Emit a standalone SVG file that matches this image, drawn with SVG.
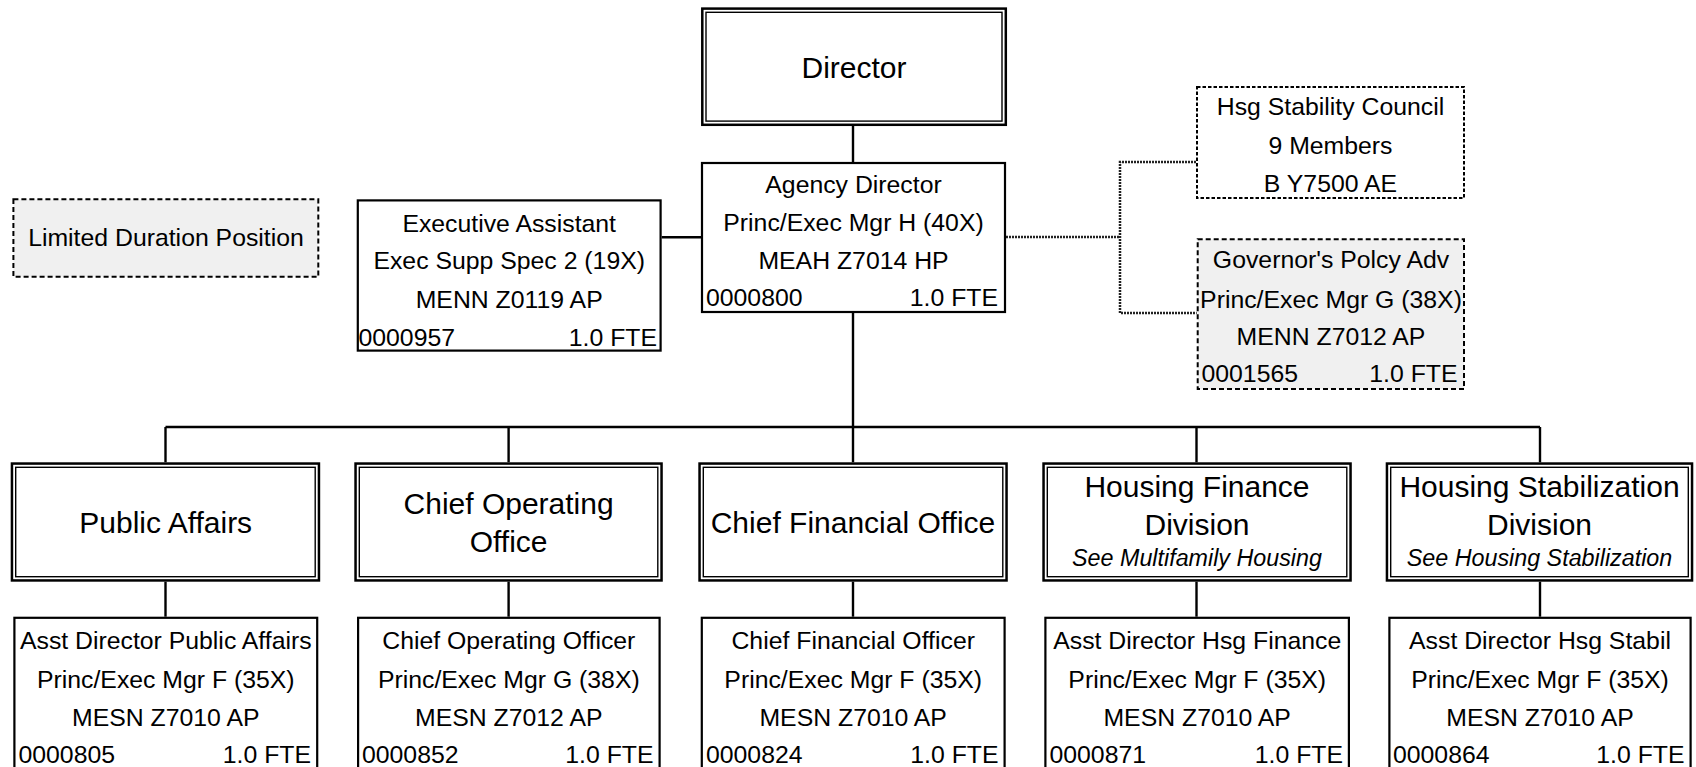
<svg xmlns="http://www.w3.org/2000/svg" width="1696" height="767" viewBox="0 0 1696 767">
  <style>
    text { font-family: "Liberation Sans", Arial, sans-serif; fill: #000; }
    .t { font-size: 24.8px; text-anchor: middle; }
    .l { font-size: 24.8px; text-anchor: start; }
    .r { font-size: 24.8px; text-anchor: end; }
    .h { font-size: 30px; text-anchor: middle; }
    .i { font-size: 23.3px; font-style: italic; text-anchor: middle; }
    .box { fill: #fff; stroke: #000; stroke-width: 2.2; }
    .dbl-o { fill: #fff; stroke: #000; stroke-width: 2.5; }
    .dbl-i { fill: none; stroke: #000; stroke-width: 1.4; }
    .ltd { fill: #f0f0f0; stroke: #000; stroke-width: 2; stroke-dasharray: 5 3; }
    .cnl { fill: #fff; stroke: #000; stroke-width: 2; stroke-dasharray: 3.5 2; }
    .ln { fill: none; stroke: #000; stroke-width: 2.4; }
    .dot { fill: none; stroke: #222; stroke-width: 2.5; stroke-dasharray: 2 1; }
  </style>

  <!-- connectors -->
  <g id="connectors">
    <line class="ln" x1="853" y1="126" x2="853" y2="162"/>
    <line class="ln" x1="661.7" y1="237.3" x2="701" y2="237.3"/>
    <line class="ln" x1="853" y1="313" x2="853" y2="427"/>
    <line class="ln" x1="165.5" y1="427" x2="1540" y2="427"/>
    <line class="ln" x1="165.5" y1="427" x2="165.5" y2="462.3"/>
    <line class="ln" x1="508.6" y1="427" x2="508.6" y2="462.3"/>
    <line class="ln" x1="853" y1="427" x2="853" y2="462.3"/>
    <line class="ln" x1="1196.5" y1="427" x2="1196.5" y2="462.3"/>
    <line class="ln" x1="1540" y1="427" x2="1540" y2="462.3"/>
    <line class="ln" x1="165.5" y1="581.7" x2="165.5" y2="616.7"/>
    <line class="ln" x1="508.6" y1="581.7" x2="508.6" y2="616.7"/>
    <line class="ln" x1="853" y1="581.7" x2="853" y2="616.7"/>
    <line class="ln" x1="1196.5" y1="581.7" x2="1196.5" y2="616.7"/>
    <line class="ln" x1="1540" y1="581.7" x2="1540" y2="616.7"/>
    <polyline class="dot" points="1006,237 1120,237"/>
    <polyline class="dot" points="1196,162 1120,162 1120,313 1196.7,313"/>
  </g>

  <!-- legend -->
  <g id="legend-limited">
    <rect class="ltd" x="13.4" y="199.3" width="304.9" height="77.4"/>
    <text class="t" x="166" y="245.5">Limited Duration Position</text>
  </g>

  <!-- top -->
  <g id="director">
    <rect class="dbl-o" x="702.3" y="8.6" width="303.5" height="116.2"/>
    <rect class="dbl-i" x="706" y="12.3" width="296" height="108.8"/>
    <text class="h" x="854" y="78">Director</text>
  </g>

  <g id="agency-director">
    <rect class="box" x="702" y="163" width="303" height="149"/>
    <text class="t" x="853.5" y="193">Agency Director</text>
    <text class="t" x="853.5" y="231">Princ/Exec Mgr H (40X)</text>
    <text class="t" x="853.5" y="268.5">MEAH Z7014 HP</text>
    <text class="l" x="706" y="306">0000800</text>
    <text class="r" x="998" y="306">1.0 FTE</text>
  </g>

  <g id="executive-assistant">
    <rect class="box" x="357.8" y="200.4" width="302.8" height="150.2"/>
    <text class="t" x="509.2" y="231.7">Executive Assistant</text>
    <text class="t" x="509.2" y="269.3">Exec Supp Spec 2 (19X)</text>
    <text class="t" x="509.2" y="307.5">MENN Z0119 AP</text>
    <text class="l" x="358.5" y="345.5">0000957</text>
    <text class="r" x="657" y="345.5">1.0 FTE</text>
  </g>

  <g id="stability-council">
    <rect class="cnl" x="1197" y="87" width="267" height="111"/>
    <text class="t" x="1330.5" y="115">Hsg Stability Council</text>
    <text class="t" x="1330.5" y="154">9 Members</text>
    <text class="t" x="1330.5" y="191.7">B Y7500 AE</text>
  </g>

  <g id="governors-advisor">
    <rect class="ltd" x="1197.7" y="239.3" width="266.3" height="149.7"/>
    <text class="t" x="1331" y="268.3">Governor's Polcy Adv</text>
    <text class="t" x="1331" y="307.7">Princ/Exec Mgr G (38X)</text>
    <text class="t" x="1331" y="345">MENN Z7012 AP</text>
    <text class="l" x="1201.5" y="381.7">0001565</text>
    <text class="r" x="1457.5" y="381.7">1.0 FTE</text>
  </g>

  <!-- divisions -->
  <g id="public-affairs">
    <rect class="dbl-o" x="11.95" y="463.55" width="307" height="116.9"/>
    <rect class="dbl-i" x="15.7" y="467.3" width="299.5" height="109.4"/>
    <text class="h" x="165.7" y="532.7">Public Affairs</text>
  </g>

  <g id="chief-operating-office">
    <rect class="dbl-o" x="355.55" y="463.55" width="306" height="116.9"/>
    <rect class="dbl-i" x="359.3" y="467.3" width="298.5" height="109.4"/>
    <text class="h" x="508.6" y="514">Chief Operating</text>
    <text class="h" x="508.6" y="551.7">Office</text>
  </g>

  <g id="chief-financial-office">
    <rect class="dbl-o" x="699.55" y="463.55" width="307" height="116.9"/>
    <rect class="dbl-i" x="703.3" y="467.3" width="299.5" height="109.4"/>
    <text class="h" x="853" y="532.7">Chief Financial Office</text>
  </g>

  <g id="housing-finance-division">
    <rect class="dbl-o" x="1043.55" y="463.55" width="307" height="116.9"/>
    <rect class="dbl-i" x="1047.3" y="467.3" width="299.5" height="109.4"/>
    <text class="h" x="1197" y="497">Housing Finance</text>
    <text class="h" x="1197" y="535">Division</text>
    <text class="i" x="1197" y="566">See Multifamily Housing</text>
  </g>

  <g id="housing-stabilization-division">
    <rect class="dbl-o" x="1386.95" y="463.55" width="305.1" height="116.9"/>
    <rect class="dbl-i" x="1390.7" y="467.3" width="297.6" height="109.4"/>
    <text class="h" x="1539.5" y="497">Housing Stabilization</text>
    <text class="h" x="1539.5" y="535">Division</text>
    <text class="i" x="1539.5" y="566">See Housing Stabilization</text>
  </g>

  <!-- division heads -->
  <g id="asst-director-public-affairs">
    <rect class="box" x="14.4" y="617.8" width="302.8" height="160"/>
    <text class="t" x="165.8" y="648.5">Asst Director Public Affairs</text>
    <text class="t" x="165.8" y="688">Princ/Exec Mgr F (35X)</text>
    <text class="t" x="165.8" y="725.5">MESN Z7010 AP</text>
    <text class="l" x="18.5" y="763">0000805</text>
    <text class="r" x="311" y="763">1.0 FTE</text>
  </g>

  <g id="chief-operating-officer">
    <rect class="box" x="358.1" y="617.8" width="301.5" height="160"/>
    <text class="t" x="508.8" y="648.5">Chief Operating Officer</text>
    <text class="t" x="508.8" y="688">Princ/Exec Mgr G (38X)</text>
    <text class="t" x="508.8" y="725.5">MESN Z7012 AP</text>
    <text class="l" x="362" y="763">0000852</text>
    <text class="r" x="653.5" y="763">1.0 FTE</text>
  </g>

  <g id="chief-financial-officer">
    <rect class="box" x="701.8" y="617.8" width="302.8" height="160"/>
    <text class="t" x="853.2" y="648.5">Chief Financial Officer</text>
    <text class="t" x="853.2" y="688">Princ/Exec Mgr F (35X)</text>
    <text class="t" x="853.2" y="725.5">MESN Z7010 AP</text>
    <text class="l" x="706" y="763">0000824</text>
    <text class="r" x="998.5" y="763">1.0 FTE</text>
  </g>

  <g id="asst-director-hsg-finance">
    <rect class="box" x="1045.4" y="617.8" width="303.5" height="160"/>
    <text class="t" x="1197.2" y="648.5">Asst Director Hsg Finance</text>
    <text class="t" x="1197.2" y="688">Princ/Exec Mgr F (35X)</text>
    <text class="t" x="1197.2" y="725.5">MESN Z7010 AP</text>
    <text class="l" x="1049.5" y="763">0000871</text>
    <text class="r" x="1343" y="763">1.0 FTE</text>
  </g>

  <g id="asst-director-hsg-stabil">
    <rect class="box" x="1389.4" y="617.8" width="301.2" height="160"/>
    <text class="t" x="1540" y="648.5">Asst Director Hsg Stabil</text>
    <text class="t" x="1540" y="688">Princ/Exec Mgr F (35X)</text>
    <text class="t" x="1540" y="725.5">MESN Z7010 AP</text>
    <text class="l" x="1393" y="763">0000864</text>
    <text class="r" x="1684.5" y="763">1.0 FTE</text>
  </g>
</svg>
